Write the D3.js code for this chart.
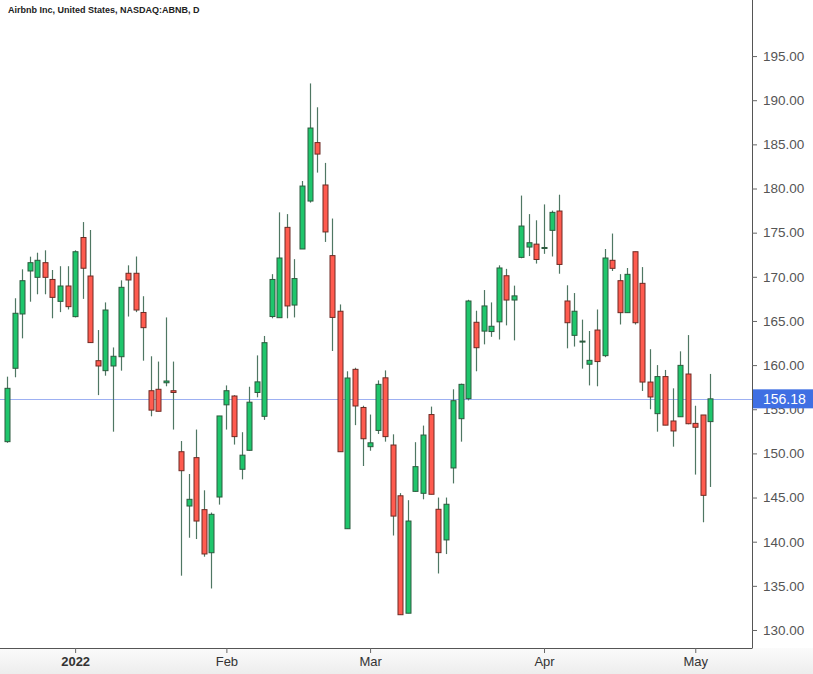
<!DOCTYPE html>
<html>
<head>
<meta charset="utf-8">
<script src="https://cdn.jsdelivr.net/npm/d3@7"></script>
<style>
  html, body { margin: 0; padding: 0; background: #ffffff; }
  svg { display: block; }
</style>
</head>
<body>
<svg id="chart" width="813" height="674"></svg>
<script>
// ---------- data ----------
const title = "Airbnb Inc, United States, NASDAQ:ABNB, D";
const dates = [
  "2021-12-20","2021-12-21","2021-12-22","2021-12-23","2021-12-27","2021-12-28","2021-12-29","2021-12-30","2021-12-31",
  "2022-01-03","2022-01-04","2022-01-05","2022-01-06","2022-01-07","2022-01-10","2022-01-11","2022-01-12","2022-01-13","2022-01-14",
  "2022-01-18","2022-01-19","2022-01-20","2022-01-21","2022-01-24","2022-01-25","2022-01-26","2022-01-27","2022-01-28","2022-01-31",
  "2022-02-01","2022-02-02","2022-02-03","2022-02-04","2022-02-07","2022-02-08","2022-02-09","2022-02-10","2022-02-11","2022-02-14",
  "2022-02-15","2022-02-16","2022-02-17","2022-02-18","2022-02-22","2022-02-23","2022-02-24","2022-02-25","2022-02-28",
  "2022-03-01","2022-03-02","2022-03-03","2022-03-04","2022-03-07","2022-03-08","2022-03-09","2022-03-10","2022-03-11","2022-03-14",
  "2022-03-15","2022-03-16","2022-03-17","2022-03-18","2022-03-21","2022-03-22","2022-03-23","2022-03-24","2022-03-25","2022-03-28",
  "2022-03-29","2022-03-30","2022-03-31",
  "2022-04-01","2022-04-04","2022-04-05","2022-04-06","2022-04-07","2022-04-08","2022-04-11","2022-04-12","2022-04-13","2022-04-14",
  "2022-04-18","2022-04-19","2022-04-20","2022-04-21","2022-04-22","2022-04-25","2022-04-26","2022-04-27","2022-04-28","2022-04-29",
  "2022-05-02","2022-05-03","2022-05-04"
];
const open = [
  151.33,159.64,165.79,170.66,169.94,171.60,169.70,167.22,168.96,
  165.49,174.45,170.09,160.50,159.37,159.90,160.95,170.40,170.40,165.96,
  157.10,157.26,158.00,157.10,150.19,144.04,149.52,143.63,138.75,145.06,
  155.50,156.50,148.20,150.35,156.90,154.20,165.50,165.37,175.60,166.80,
  173.15,178.58,185.20,180.40,172.40,166.10,141.47,159.52,155.20,
  150.76,152.60,158.56,150.95,145.20,131.90,145.70,145.48,154.40,143.67,
  140.20,148.35,153.93,156.20,164.85,163.85,163.80,164.90,170.12,167.37,
  172.20,173.37,173.70,
  173.25,175.26,177.45,167.26,163.37,162.68,160.10,163.97,161.07,171.87,
  169.56,165.94,172.84,169.26,158.08,154.50,158.70,153.67,154.15,158.99,
  153.40,154.35,153.60
];
const high = [
  158.69,167.57,170.85,172.28,172.73,173.00,170.77,171.20,171.20,
  173.00,176.20,175.30,163.97,167.10,162.00,169.60,171.30,172.30,167.80,
  161.00,160.40,165.40,160.40,151.40,147.67,152.70,145.82,143.30,154.24,
  157.70,156.60,152.40,157.55,161.10,163.30,170.30,177.30,177.10,172.00,
  180.85,191.90,189.20,182.90,176.60,166.87,159.30,159.70,155.40,
  154.40,158.27,159.40,152.16,145.50,144.70,151.27,153.15,155.30,145.00,
  145.00,157.26,157.90,167.40,166.16,168.50,167.10,171.30,170.90,169.00,
  179.20,177.10,176.40,
  178.20,177.50,179.30,169.04,168.16,165.15,163.86,166.30,173.15,174.90,
  170.30,171.00,172.84,171.10,161.80,160.00,159.45,157.37,161.56,163.40,
  155.40,154.35,159.00
];
const low = [
  151.20,158.62,163.03,167.18,168.02,168.02,165.30,166.00,166.30,
  165.40,167.50,162.50,156.60,158.80,152.46,159.37,165.50,166.00,160.50,
  154.20,154.77,157.60,152.70,136.15,140.45,140.30,138.30,134.70,144.20,
  152.70,151.00,147.06,150.30,156.35,153.80,165.30,165.37,165.30,165.40,
  173.15,178.40,181.80,173.95,161.60,150.19,141.47,153.20,148.57,
  150.30,152.20,151.33,140.70,131.73,131.90,145.67,144.80,145.37,136.40,
  138.60,146.60,151.33,156.00,159.30,162.35,163.20,162.90,164.50,162.80,
  172.10,172.35,171.50,
  172.60,172.30,170.35,161.90,162.10,159.60,157.70,157.60,160.90,170.66,
  164.60,165.90,164.60,157.07,155.00,152.46,153.20,150.76,154.15,153.30,
  147.60,142.20,146.20
];
const close = [
  157.37,165.87,169.56,171.60,171.87,169.94,167.67,168.96,166.62,
  172.84,170.97,162.55,159.90,166.24,161.00,168.81,169.64,166.24,164.24,
  154.90,154.77,158.20,156.90,148.04,144.80,142.34,138.61,143.10,154.24,
  157.10,151.90,149.80,155.80,158.10,162.54,169.70,172.13,166.70,169.80,
  180.28,186.85,183.90,175.08,165.40,150.19,158.54,155.37,151.66,
  151.20,157.82,151.90,142.90,131.73,142.34,148.50,152.08,145.37,138.76,
  144.24,155.97,157.82,167.26,161.97,166.70,164.40,171.00,167.37,167.84,
  175.75,173.86,171.96,
  173.32,177.30,171.40,164.80,166.10,162.72,160.54,160.40,172.13,170.96,
  165.94,170.28,164.80,158.08,156.39,158.70,153.20,152.54,159.97,153.36,
  152.96,145.25,156.18
];
const xTickDates = ["2022-01-03","2022-02-01","2022-03-01","2022-04-01","2022-05-02"];
const xTickLabels = ["2022","Feb","Mar","Apr","May"];
const yTicks = [130,135,140,145,150,155,160,165,170,175,180,185,190,195];
const lastPrice = 156.18;

// ---------- layout ----------
const W = 813, H = 674;
const plotRight = 752, plotBottom = 648;
const svg = d3.select("#chart");

const bars = dates.map((d, i) => ({ i, date: d, o: open[i], h: high[i], l: low[i], c: close[i] }));

const x = d3.scaleLinear().domain([-0.935, 98.5]).range([0, plotRight]);
const y = d3.scaleLinear().domain([127.96, 201.35]).range([plotBottom, 0]);

// bottom grey strip
const defs = svg.append("defs");
const grad = defs.append("linearGradient").attr("id", "bg").attr("x1", 0).attr("x2", 0).attr("y1", 0).attr("y2", 1);
grad.append("stop").attr("offset", "0%").attr("stop-color", "#fbfbfb");
grad.append("stop").attr("offset", "100%").attr("stop-color", "#ededed");
svg.append("rect").attr("x", 0).attr("y", plotBottom).attr("width", W).attr("height", H - plotBottom).attr("fill", "url(#bg)");

const clip = defs.append("clipPath").attr("id", "plotclip");
clip.append("rect").attr("x", 0).attr("y", 0).attr("width", plotRight).attr("height", plotBottom);

// last price line
svg.append("line")
  .attr("x1", 0).attr("x2", plotRight)
  .attr("y1", Math.round(y(lastPrice)) + 0.5).attr("y2", Math.round(y(lastPrice)) + 0.5)
  .attr("stroke", "#9db0f2").attr("stroke-width", 1);

// candles
const g = svg.append("g").attr("clip-path", "url(#plotclip)");
const bodyW = 5;
const up = d => d.c >= d.o;

g.selectAll("line.wick").data(bars).join("line")
  .attr("class", "wick")
  .attr("x1", d => Math.round(x(d.i)) + 0.5).attr("x2", d => Math.round(x(d.i)) + 0.5)
  .attr("y1", d => y(d.h)).attr("y2", d => y(d.l))
  .attr("stroke", "#4f7763").attr("stroke-width", 1.2);

g.selectAll("rect.body").data(bars).join("rect")
  .attr("class", "body")
  .attr("x", d => Math.round(x(d.i)) + 0.5 - bodyW / 2)
  .attr("y", d => y(Math.max(d.o, d.c)))
  .attr("width", bodyW)
  .attr("height", d => Math.max(1, Math.abs(y(d.o) - y(d.c))))
  .attr("fill", d => up(d) ? "#1fc66c" : "#ff5b4f")
  .attr("stroke", d => up(d) ? "#2c5a3e" : "#6e2b24")
  .attr("stroke-width", 1);

// x axis
const tickIdx = xTickDates.map(d => dates.indexOf(d));
const xAxis = d3.axisBottom(x)
  .tickValues(tickIdx)
  .tickSize(5)
  .tickPadding(4)
  .tickFormat((v, k) => xTickLabels[k]);
const gx = svg.append("g").attr("transform", `translate(0,${plotBottom})`).call(xAxis);
gx.select(".domain").attr("d", `M0,0.5H${plotRight}`).attr("stroke", "#555");
gx.selectAll(".tick line").attr("stroke", "#666");
gx.selectAll(".tick text")
  .attr("font-family", "'Liberation Sans', Arial, sans-serif")
  .attr("font-size", 13).attr("fill", "#333")
  .attr("font-weight", (v, k) => k === 0 ? "bold" : "normal");

// y axis
const yAxis = d3.axisRight(y)
  .tickValues(yTicks)
  .tickSize(5)
  .tickPadding(6)
  .tickFormat(d3.format(".2f"));
const gy = svg.append("g").attr("transform", `translate(${plotRight},0)`).call(yAxis);
gy.select(".domain").attr("d", `M0.5,0V${plotBottom + 0.5}`).attr("stroke", "#555");
gy.selectAll(".tick line").attr("stroke", "#666");
gy.selectAll(".tick text")
  .attr("font-family", "'Liberation Sans', Arial, sans-serif")
  .attr("font-size", 13.5).attr("fill", "#555");

// last price label (covers the 155.00 tick label, as in the original)
const ly = y(lastPrice);
svg.append("rect")
  .attr("x", plotRight + 1).attr("y", ly - 9.5)
  .attr("width", W - plotRight - 1).attr("height", 19)
  .attr("fill", "#3f6fe3");
svg.append("text")
  .attr("x", plotRight + 11).attr("y", ly + 5)
  .attr("font-family", "'Liberation Sans', Arial, sans-serif")
  .attr("font-size", 14).attr("fill", "#ffffff")
  .text(d3.format(".2f")(lastPrice));

// title
svg.append("text")
  .attr("x", 8).attr("y", 13)
  .attr("font-family", "'Liberation Sans', Arial, sans-serif")
  .attr("font-size", 9).attr("font-weight", "bold").attr("fill", "#222")
  .text(title);
</script>
</body>
</html>
